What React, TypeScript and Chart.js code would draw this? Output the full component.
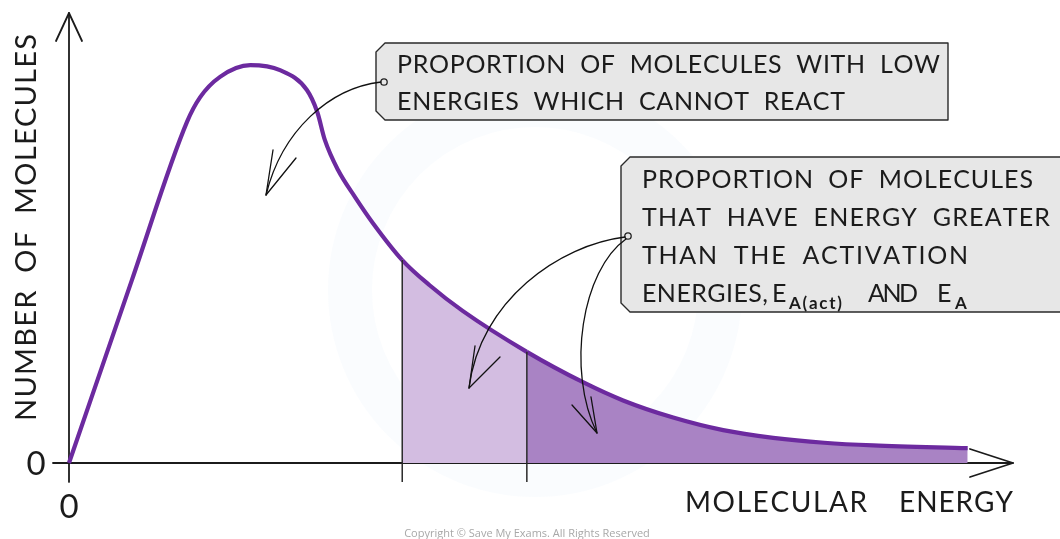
import { useEffect, useRef } from "react";
import { Chart, registerables } from "chart.js";

Chart.register(...registerables);

// ---- data (energy in arbitrary units 0..100, molecules in arbitrary units 0..100)
const energy = [0, 6.67, 12.5, 13.9, 16.0, 19.2, 22.35, 25.2, 26.3, 27.1, 28.5, 30.3, 32.2, 35.3, 38.2, 41.7, 48.5, 54.5, 58.7, 64.0, 69.3, 74.6, 80.0, 85.2, 95.2];
const molecules = [0, 40.7, 75.8, 81.3, 85.8, 88.4, 87.3, 82.9, 78.0, 71.8, 65.1, 59.1, 53.3, 45.1, 39.5, 33.8, 24.7, 17.9, 13.9, 10.1, 7.3, 5.6, 4.5, 3.9, 3.3];
const EA_CATALYSED = 35.3; // E_A(act)
const EA = 48.5; // E_A
const AXIS_MIN = 0;
const AXIS_MAX = 100;
const LINE_DROP = -4.2; // marker lines extend slightly below the axis
const yTickLabel = "0";
const xTickLabel = "0";
const xTitle = ["MOLECULAR", "ENERGY"];
const yTitle = "NUMBER OF MOLECULES";
const box1Lines = ["PROPORTION OF MOLECULES WITH LOW", "ENERGIES WHICH CANNOT REACT"];
const box2Lines = ["PROPORTION OF MOLECULES", "THAT HAVE ENERGY GREATER", "THAN THE ACTIVATION"];
const copyright = "Copyright © Save My Exams. All Rights Reserved";

const FONT = 'Lato, "Open Sans", sans-serif';
const INK = "#1b1b1b";
const LIGHT_FILL = "#d3bde1";
const DARK_FILL = "#a983c4";

function valueAt(e: number) {
  const i = energy.indexOf(e);
  return molecules[i];
}

function drawFitted(ctx: CanvasRenderingContext2D, text: string, x: number, y: number, width: number, spaceExtra = 6) {
  const chars = [...text];
  const ws = chars.map((c) => ctx.measureText(c).width);
  const nSpaces = chars.filter((c) => c === " ").length;
  const total = ws.reduce((a, b) => a + b, 0) + nSpaces * spaceExtra;
  const gap = chars.length > 1 ? (width - total) / (chars.length - 1) : 0;
  let cx = x;
  chars.forEach((c, i) => {
    ctx.fillText(c, cx, y);
    cx += ws[i] + gap + (c === " " ? spaceExtra : 0);
  });
}

function box(ctx: CanvasRenderingContext2D, l: number, t: number, r: number, b: number) {
  const c = 9;
  ctx.beginPath();
  ctx.moveTo(l + c, t);
  ctx.lineTo(r, t);
  ctx.lineTo(r, b);
  ctx.lineTo(l + c, b);
  ctx.lineTo(l, b - c);
  ctx.lineTo(l, t + c);
  ctx.closePath();
  ctx.fillStyle = "#e7e7e7";
  ctx.fill();
  ctx.strokeStyle = "#2a2a2a";
  ctx.lineWidth = 1.4;
  ctx.stroke();
}

function arrowHead(ctx: CanvasRenderingContext2D, tip: [number, number], w1: [number, number], w2: [number, number]) {
  ctx.beginPath();
  ctx.moveTo(w1[0], w1[1]);
  ctx.lineTo(tip[0], tip[1]);
  ctx.lineTo(w2[0], w2[1]);
  ctx.stroke();
}

const decorPlugin = {
  id: "decor",
  beforeDatasetsDraw(chart: any) {
    const ctx: CanvasRenderingContext2D = chart.ctx;
    const xs = chart.scales.x;
    const ys = chart.scales.y;
    ctx.save();
    // very faint watermark ring
    ctx.strokeStyle = "rgba(228,238,248,0.2)";
    ctx.lineWidth = 44;
    ctx.beginPath();
    ctx.arc(535, 290, 185, 0, Math.PI * 2);
    ctx.stroke();

    const x0 = xs.getPixelForValue(AXIS_MIN);
    const y0 = ys.getPixelForValue(AXIS_MIN);
    const xEnd = xs.getPixelForValue(AXIS_MAX);
    const yTop = ys.getPixelForValue(AXIS_MAX);
    ctx.strokeStyle = INK;
    ctx.lineWidth = 1.8;
    ctx.lineCap = "round";
    ctx.lineJoin = "round";
    // y axis
    ctx.beginPath();
    ctx.moveTo(x0, ys.getPixelForValue(LINE_DROP));
    ctx.lineTo(x0, yTop);
    ctx.stroke();
    arrowHead(ctx, [x0, yTop], [x0 - 13, yTop + 28], [x0 + 13, yTop + 28]);
    // x axis
    ctx.beginPath();
    ctx.moveTo(x0 - 16, y0);
    ctx.lineTo(xEnd, y0);
    ctx.stroke();
    arrowHead(ctx, [xEnd, y0], [xEnd - 43, y0 - 14], [xEnd - 43, y0 + 14]);

    // tick labels
    ctx.fillStyle = INK;
    ctx.font = `33px ${FONT}`;
    ctx.textAlign = "center";
    ctx.textBaseline = "middle";
    ctx.fillText(yTickLabel, x0 - 33, y0 + 1);
    ctx.fillText(xTickLabel, x0, y0 + 44);

    // axis titles
    ctx.textAlign = "left";
    ctx.textBaseline = "alphabetic";
    ctx.font = `28px ${FONT}`;
    drawFitted(ctx, xTitle[0], 685, 512, 182);
    drawFitted(ctx, xTitle[1], 899, 512, 114);
    ctx.save();
    ctx.translate(36, 421);
    ctx.rotate(-Math.PI / 2);
    ctx.font = `29px ${FONT}`;
    drawFitted(ctx, yTitle, 0, 0, 387, 8);
    ctx.restore();

    // copyright
    ctx.font = `11px "Open Sans", sans-serif`;
    ctx.fillStyle = "#a8a8a8";
    ctx.textAlign = "center";
    ctx.fillText(copyright, 527, 537);
    ctx.restore();
  },
  afterDatasetsDraw(chart: any) {
    const ctx: CanvasRenderingContext2D = chart.ctx;
    ctx.save();
    ctx.lineCap = "round";
    ctx.lineJoin = "round";

    // box 1
    box(ctx, 376, 43, 948, 120);
    ctx.fillStyle = INK;
    ctx.font = `25px ${FONT}`;
    ctx.textAlign = "left";
    ctx.textBaseline = "alphabetic";
    drawFitted(ctx, box1Lines[0], 397, 73, 543, 7);
    drawFitted(ctx, box1Lines[1], 397, 110, 448, 7);

    // box 2
    box(ctx, 621, 157, 1075, 312);
    ctx.fillStyle = INK;
    drawFitted(ctx, box2Lines[0], 642, 188, 391, 7);
    drawFitted(ctx, box2Lines[1], 642, 226, 408, 7);
    drawFitted(ctx, box2Lines[2], 642, 264, 326, 7);
    // line 4 with subscripts
    drawFitted(ctx, "ENERGIES,", 642, 302, 126);
    ctx.fillText("E", 772, 302);
    drawFitted(ctx, "AND", 868, 302, 50);
    ctx.fillText("E", 937, 302);
    ctx.font = `bold 17px ${FONT}`;
    drawFitted(ctx, "A(act)", 789, 309, 53);
    ctx.fillText("A", 955, 309);

    // connector dots
    ctx.strokeStyle = "#222";
    ctx.fillStyle = "#e7e7e7";
    ctx.lineWidth = 1.3;
    [[384, 82], [628, 236]].forEach(([cx, cy]) => {
      ctx.beginPath();
      ctx.arc(cx, cy, 3.2, 0, Math.PI * 2);
      ctx.fill();
      ctx.stroke();
    });

    // arrows
    ctx.strokeStyle = "#111";
    ctx.lineWidth = 1.3;
    ctx.beginPath();
    ctx.moveTo(381, 82);
    ctx.bezierCurveTo(330, 88, 282, 130, 266, 195);
    ctx.stroke();
    arrowHead(ctx, [266, 195], [273, 150], [296, 158]);

    ctx.beginPath();
    ctx.moveTo(625, 237);
    ctx.bezierCurveTo(560, 245, 480, 300, 469, 388);
    ctx.stroke();
    arrowHead(ctx, [469, 388], [475, 346], [500, 357]);

    ctx.beginPath();
    ctx.moveTo(626, 239);
    ctx.bezierCurveTo(582, 270, 566, 370, 597, 433);
    ctx.stroke();
    arrowHead(ctx, [597, 433], [572, 405], [591, 397]);

    ctx.restore();
  },
};

export default function App() {
  const ref = useRef<HTMLCanvasElement | null>(null);
  useEffect(() => {
    document.body.style.margin = "0";
    const canvas = ref.current!;
    const curve = energy.map((e, i) => ({ x: e, y: molecules[i] }));
    const chart = new Chart(canvas, {
      type: "line",
      data: {
        datasets: [
          {
            data: curve,
            order: 1,
            borderColor: "#6c2a9f",
            borderWidth: 4.2,
            pointRadius: 0,
            cubicInterpolationMode: "monotone",
            fill: "origin",
            backgroundColor: "rgba(0,0,0,0)",
            clip: false as any,
            segment: {
              backgroundColor: (c: any) => {
                const e = energy[c.p0DataIndex];
                if (e >= EA) return DARK_FILL;
                if (e >= EA_CATALYSED) return LIGHT_FILL;
                return "rgba(0,0,0,0)";
              },
            },
          } as any,
          {
            data: [{ x: EA_CATALYSED, y: LINE_DROP }, { x: EA_CATALYSED, y: valueAt(EA_CATALYSED) }],
            order: 0,
            borderColor: "#2a2a2a",
            borderWidth: 1.5,
            pointRadius: 0,
            fill: false,
            clip: false as any,
          },
          {
            data: [{ x: EA, y: LINE_DROP }, { x: EA, y: valueAt(EA) }],
            order: 0,
            borderColor: "#2a2a2a",
            borderWidth: 1.5,
            pointRadius: 0,
            fill: false,
            clip: false as any,
          },
        ],
      },
      options: {
        animation: false,
        responsive: false,
        devicePixelRatio: 1,
        layout: { padding: { left: 69, right: 47, top: 13, bottom: 76 } },
        scales: {
          x: { type: "linear", min: AXIS_MIN, max: AXIS_MAX, display: false },
          y: { type: "linear", min: AXIS_MIN, max: AXIS_MAX, display: false },
        },
        plugins: { legend: { display: false }, tooltip: { enabled: false } },
      },
      plugins: [decorPlugin],
    });
    return () => chart.destroy();
  }, []);
  return (
    <div style={{ position: "absolute", left: 0, top: 0, width: 1060, height: 539, background: "#fff" }}>
      <canvas ref={ref} width={1060} height={539} style={{ display: "block" }} />
    </div>
  );
}
